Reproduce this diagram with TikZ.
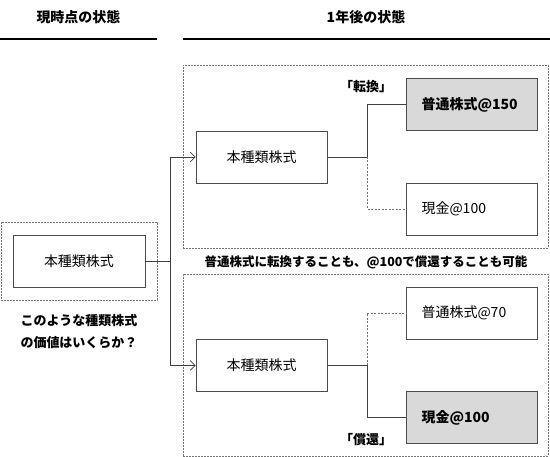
\documentclass[tikz,border=0pt]{standalone}
\usepackage{fontspec}
\setmainfont{Noto Sans CJK JP}
\usetikzlibrary{arrows.meta}
\begin{document}
\begin{tikzpicture}[x=1pt,y=-1pt,
  btxt/.style={font=\fontsize{13}{15}\selectfont\bfseries, inner sep=0pt},
  htxt/.style={font=\fontsize{14}{16}\selectfont\bfseries, inner sep=0pt},
  ctxt/.style={font=\fontsize{12.5}{15}\selectfont\bfseries, inner sep=0pt},
  box/.style={draw=black!70, line width=0.8pt, minimum width=131pt, minimum height=52pt, inner sep=0pt, font=\fontsize{14}{16}\selectfont},
  rbox/.style={box, text width=100pt, align=left, inner xsep=15.5pt},
  gbox/.style={rbox, fill=black!15, font=\fontsize{14}{16}\selectfont\bfseries},
  dbox/.style={draw=black!55, line width=0.7pt, dash pattern=on 1.6pt off 1.4pt, inner sep=0pt},
  conn/.style={draw=black!75, line width=0.8pt},
  dconn/.style={draw=black!55, line width=0.8pt, dash pattern=on 2pt off 1.5pt},
  arr/.style={conn, -{Straight Barb[length=5pt,width=10pt,line width=0.7pt]}},
  hline/.style={draw=black, line width=2pt}
]
\useasboundingbox (0,0) rectangle (550,457);
% headers
\node[htxt] (h1) at (78.5,17) {現時点の状態};
\node[htxt] (h2) at (366,17) {1年後の状態};
\draw[hline] (0,39) -- (157,39);
\draw[hline] (183,39) -- (550,39);
% left
\node[dbox, minimum width=156pt, minimum height=78pt] (LD) at (79,261) {};
\node[box, minimum width=132pt] (L) at (79,261) {本種類株式};
\node[btxt] (q1) at (79,321) {このような種類株式};
\node[btxt] (q2) at (79,343) {の価値はいくらか？};
% upper group
\node[dbox, minimum width=365pt, minimum height=183pt] (UD) at (365.5,156.5) {};
\node[box] (UM) at (261.5,157) {本種類株式};
\node[gbox] (UTR) at (471.5,104.5) {普通株式@150};
\node[rbox] (UBR) at (471.5,209) {現金@100};
\node[btxt] (t1) at (366,87) {「転換」};
% middle caption
\node[ctxt] (mid) at (366,262) {普通株式に転換することも、@100で償還することも可能};
% lower group
\node[dbox, minimum width=365pt, minimum height=182pt] (LDD) at (365.5,365) {};
\node[box] (LM) at (261.5,365.5) {本種類株式};
\node[rbox] (LTR) at (471.5,313) {普通株式@70};
\node[gbox] (LBR) at (471.5,417.5) {現金@100};
\node[btxt] (t2) at (366,440) {「償還」};
% connectors
\coordinate (J) at (170,261);
\draw[conn] (L.east) -- (J);
\draw[arr] (J) |- (UM.west);
\draw[arr] (J) |- (LM.west);
\coordinate (UB) at (367,157);
\draw[conn] (UM.east) -- (UB) |- (UTR.west);
\draw[dconn] (UB) |- (UBR.west);
\coordinate (LB) at (367,365.5);
\draw[dconn] (LB) |- (LTR.west);
\draw[conn] (LM.east) -- (LB) |- (LBR.west);
\end{tikzpicture}
\end{document}
